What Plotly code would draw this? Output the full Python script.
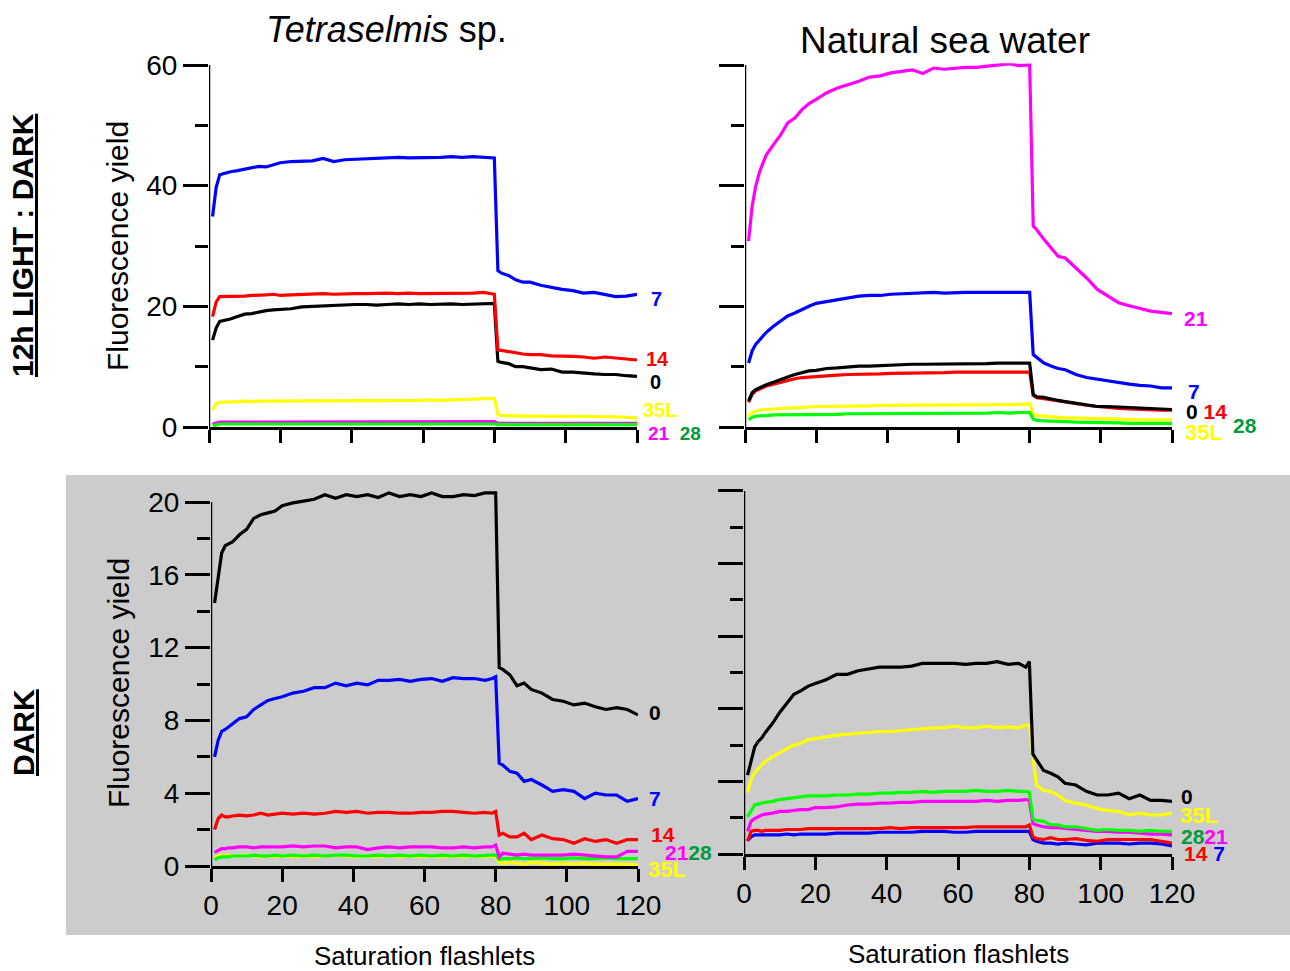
import plotly.graph_objects as go

# ---------------- data ----------------
flashlets = [1, 2, 3, 4, 5, 6, 8, 10, 12, 14, 16, 18, 20, 23, 26, 29, 32, 35, 38, 41,
             44, 47, 50, 53, 56, 59, 62, 65, 68, 71, 74, 77, 79, 80, 81, 82, 84, 86, 88, 90,
             93, 96, 99, 102, 105, 108, 111, 114, 117, 120]

# Tetraselmis sp., 12h LIGHT : DARK
tet_ld_7 = [34.9, 39.7, 41.8, 42.0, 42.2, 42.3, 42.5, 42.7, 43.0, 43.2,
            43.1, 43.5, 43.8, 44.0, 44.1, 44.1, 44.5, 44.0, 44.3, 44.4,
            44.5, 44.6, 44.7, 44.7, 44.6, 44.6, 44.7, 44.7, 44.8, 44.7,
            44.8, 44.7, 44.6, 44.6, 25.9, 25.5, 25.1, 24.4, 24.0, 24.0,
            23.5, 23.1, 22.8, 22.6, 22.2, 22.3, 21.9, 21.6, 21.7, 22.0]
tet_ld_14 = [18.3, 20.7, 21.6, 21.6, 21.7, 21.7, 21.7, 21.7, 21.8, 21.8,
             21.9, 22.0, 21.8, 21.9, 22.0, 22.0, 22.1, 22.0, 22.1, 22.1,
             22.1, 22.2, 22.2, 22.1, 22.2, 22.1, 22.1, 22.2, 22.2, 22.2,
             22.2, 22.3, 22.1, 22.0, 12.8, 12.7, 12.5, 12.2, 12.1, 12.0,
             12.0, 11.8, 11.8, 11.7, 11.6, 11.4, 11.6, 11.4, 11.3, 11.1]
tet_ld_0 = [14.4, 16.4, 17.5, 17.6, 17.7, 17.9, 18.3, 18.7, 18.8, 19.1,
            19.3, 19.4, 19.5, 19.6, 19.9, 20.0, 20.0, 20.2, 20.2, 20.3,
            20.3, 20.2, 20.3, 20.4, 20.3, 20.4, 20.3, 20.4, 20.4, 20.3,
            20.4, 20.5, 20.5, 20.5, 10.9, 10.7, 10.5, 10.0, 10.0, 9.8,
            9.5, 9.6, 9.1, 9.1, 8.9, 8.8, 8.7, 8.7, 8.5, 8.4]
tet_ld_35L = [2.8, 3.9, 4.1, 4.1, 4.1, 4.2, 4.2, 4.3, 4.2, 4.3,
              4.3, 4.3, 4.3, 4.3, 4.4, 4.3, 4.4, 4.4, 4.3, 4.4,
              4.4, 4.4, 4.4, 4.4, 4.3, 4.4, 4.5, 4.4, 4.5, 4.5,
              4.6, 4.7, 4.7, 4.7, 2.1, 1.9, 1.9, 1.8, 1.8, 1.8,
              1.8, 1.8, 1.8, 1.8, 1.7, 1.8, 1.7, 1.7, 1.6, 1.5]
tet_ld_21 = [0.5, 0.7, 0.8, 0.8, 0.8, 0.8, 0.8, 0.8, 0.8, 0.8,
             0.8, 0.8, 0.8, 0.9, 0.8, 0.8, 0.8, 0.8, 0.9, 0.8,
             0.8, 0.8, 0.8, 0.8, 0.8, 0.8, 0.8, 0.8, 0.8, 0.8,
             0.8, 0.8, 0.8, 0.9, 0.6, 0.6, 0.6, 0.6, 0.6, 0.6,
             0.6, 0.6, 0.7, 0.6, 0.6, 0.6, 0.6, 0.6, 0.6, 0.6]
tet_ld_28 = [0.2, 0.4, 0.5, 0.5, 0.5, 0.5, 0.5, 0.5, 0.5, 0.5,
             0.5, 0.5, 0.5, 0.5, 0.5, 0.5, 0.6, 0.5, 0.5, 0.5,
             0.5, 0.5, 0.5, 0.5, 0.5, 0.5, 0.5, 0.6, 0.5, 0.5,
             0.5, 0.5, 0.5, 0.5, 0.4, 0.4, 0.4, 0.4, 0.4, 0.4,
             0.4, 0.4, 0.4, 0.4, 0.4, 0.4, 0.4, 0.4, 0.4, 0.4]

# Natural sea water, 12h LIGHT : DARK
nsw_ld_21 = [30.8, 36.6, 39.9, 42.1, 43.7, 45.1, 46.8, 48.4, 50.4, 51.2,
             52.6, 53.6, 54.3, 55.4, 56.2, 56.7, 57.3, 58.0, 58.2, 58.7,
             59.0, 59.2, 58.6, 59.5, 59.3, 59.5, 59.6, 59.6, 59.8, 60.0,
             60.2, 59.9, 60.0, 60.0, 33.3, 32.7, 31.1, 29.7, 28.3, 28.0,
             26.4, 24.7, 22.8, 21.7, 20.6, 20.1, 19.6, 19.2, 19.0, 18.8]
nsw_ld_7 = [10.6, 12.6, 13.7, 14.4, 15.1, 15.7, 16.7, 17.5, 18.4, 18.9,
            19.5, 20.0, 20.5, 20.8, 21.2, 21.5, 21.7, 21.8, 21.8, 22.0,
            22.1, 22.1, 22.2, 22.3, 22.2, 22.3, 22.3, 22.3, 22.3, 22.3,
            22.3, 22.2, 22.3, 22.3, 12.0, 11.5, 10.6, 10.1, 9.7, 9.5,
            8.7, 8.2, 7.9, 7.6, 7.3, 7.1, 6.9, 6.8, 6.5, 6.5]
nsw_ld_0 = [4.3, 5.7, 6.2, 6.5, 6.8, 7.0, 7.4, 7.9, 8.3, 8.7,
            9.0, 9.3, 9.4, 9.7, 9.8, 10.0, 10.1, 10.1, 10.2, 10.3,
            10.3, 10.4, 10.4, 10.4, 10.5, 10.5, 10.5, 10.5, 10.5, 10.6,
            10.6, 10.5, 10.5, 10.6, 5.4, 5.0, 4.9, 4.6, 4.4, 4.2,
            3.9, 3.6, 3.4, 3.4, 3.3, 3.2, 3.1, 3.0, 3.0, 2.9]
nsw_ld_14 = [4.1, 5.4, 6.0, 6.3, 6.5, 6.8, 7.1, 7.4, 7.8, 8.0,
             8.2, 8.3, 8.4, 8.5, 8.6, 8.7, 8.7, 8.8, 8.8, 8.9,
             8.9, 8.9, 9.0, 9.0, 9.0, 9.1, 9.1, 9.0, 9.1, 9.1,
             9.1, 9.1, 9.1, 9.1, 5.2, 4.85, 4.7, 4.5, 4.3, 4.1,
             3.9, 3.6, 3.4, 3.2, 3.1, 3.0, 2.9, 2.8, 2.8, 2.8]
nsw_ld_35L = [1.8, 2.4, 2.6, 2.8, 2.9, 2.9, 3.0, 3.0, 3.1, 3.2,
              3.2, 3.3, 3.4, 3.4, 3.4, 3.5, 3.5, 3.5, 3.6, 3.6,
              3.6, 3.6, 3.6, 3.6, 3.7, 3.7, 3.7, 3.7, 3.7, 3.7,
              3.7, 3.75, 3.75, 3.9, 2.1, 1.9, 1.8, 1.7, 1.6, 1.5,
              1.5, 1.4, 1.4, 1.4, 1.3, 1.3, 1.2, 1.2, 1.2, 1.2]
nsw_ld_28 = [1.2, 1.6, 1.8, 1.8, 1.9, 1.9, 2.0, 2.0, 2.0, 2.0,
             2.1, 2.1, 2.1, 2.1, 2.1, 2.2, 2.2, 2.2, 2.2, 2.3,
             2.3, 2.3, 2.3, 2.2, 2.3, 2.3, 2.3, 2.3, 2.3, 2.4,
             2.3, 2.4, 2.4, 2.4, 1.3, 1.1, 1.0, 1.0, 0.9, 0.9,
             0.8, 0.8, 0.7, 0.7, 0.7, 0.6, 0.6, 0.6, 0.6, 0.6]

# Tetraselmis sp., DARK
tet_d_0 = [14.45, 15.9, 17.2, 17.6, 17.7, 17.8, 18.2, 18.5, 19.1, 19.3,
           19.4, 19.5, 19.8, 19.95, 20.05, 20.15, 20.4, 20.2, 20.4, 20.3,
           20.4, 20.25, 20.5, 20.3, 20.4, 20.3, 20.5, 20.3, 20.3, 20.4,
           20.35, 20.5, 20.5, 20.5, 10.9, 10.8, 10.5, 9.9, 10.05, 9.7,
           9.5, 9.15, 9.05, 8.85, 8.95, 8.75, 8.6, 8.7, 8.6, 8.3]
tet_d_7 = [6.0, 6.9, 7.4, 7.5, 7.65, 7.8, 8.1, 8.2, 8.6, 8.85,
           9.1, 9.2, 9.3, 9.5, 9.6, 9.8, 9.8, 10.05, 9.9, 10.05,
           9.95, 10.2, 10.2, 10.25, 10.15, 10.25, 10.3, 10.15, 10.35, 10.3,
           10.3, 10.2, 10.3, 10.4, 5.65, 5.55, 5.2, 5.1, 4.65, 4.75,
           4.45, 4.1, 4.2, 4.1, 3.7, 4.0, 3.9, 3.9, 3.55, 3.7]
tet_d_14 = [2.0, 2.6, 2.8, 2.7, 2.7, 2.75, 2.8, 2.75, 2.8, 2.9,
            2.8, 2.85, 2.9, 2.85, 2.9, 2.85, 2.9, 3.0, 2.95, 3.0,
            2.9, 2.95, 2.95, 2.9, 2.9, 2.95, 2.95, 3.0, 3.0, 2.95,
            2.9, 2.95, 2.9, 3.0, 1.7, 1.8, 1.6, 1.6, 1.8, 1.45,
            1.7, 1.5, 1.45, 1.25, 1.5, 1.35, 1.45, 1.25, 1.45, 1.45]
tet_d_21 = [0.75, 0.85, 0.95, 0.95, 1.0, 1.0, 1.05, 1.05, 1.0, 1.05,
            1.05, 1.05, 1.05, 1.1, 1.05, 1.1, 1.1, 1.0, 1.05, 1.05,
            0.9, 1.0, 1.05, 1.0, 1.05, 1.05, 1.05, 1.0, 1.0, 1.05,
            1.0, 1.05, 1.05, 1.15, 0.5, 0.7, 0.65, 0.6, 0.65, 0.6,
            0.6, 0.6, 0.6, 0.65, 0.6, 0.55, 0.5, 0.5, 0.8, 0.8]
tet_d_28 = [0.35, 0.45, 0.5, 0.5, 0.5, 0.55, 0.55, 0.55, 0.6, 0.55,
            0.55, 0.6, 0.55, 0.6, 0.55, 0.6, 0.55, 0.6, 0.6, 0.55,
            0.55, 0.6, 0.55, 0.6, 0.55, 0.6, 0.55, 0.6, 0.55, 0.6,
            0.55, 0.6, 0.6, 0.6, 0.35, 0.4, 0.4, 0.45, 0.4, 0.4,
            0.45, 0.4, 0.4, 0.45, 0.4, 0.4, 0.45, 0.4, 0.4, 0.4]
tet_d_35L = [0.45, 0.55, 0.6, 0.55, 0.6, 0.55, 0.55, 0.6, 0.55, 0.5,
             0.55, 0.5, 0.55, 0.5, 0.55, 0.5, 0.55, 0.6, 0.55, 0.5,
             0.55, 0.5, 0.55, 0.5, 0.55, 0.5, 0.55, 0.5, 0.55, 0.5,
             0.55, 0.5, 0.55, 0.5, 0.2, 0.15, 0.2, 0.15, 0.1, 0.2,
             0.15, 0.1, 0.15, 0.1, 0.15, 0.1, 0.1, 0.1, 0.1, 0.05]

# Natural sea water, DARK
nsw_d_0 = [4.35, 5.2, 5.9, 6.2, 6.4, 6.7, 7.2, 7.8, 8.3, 8.8,
           9.0, 9.25, 9.4, 9.6, 9.9, 9.9, 10.1, 10.2, 10.3, 10.3,
           10.3, 10.35, 10.5, 10.5, 10.5, 10.5, 10.45, 10.5, 10.5, 10.6,
           10.45, 10.5, 10.3, 10.6, 5.5, 5.2, 4.6, 4.45, 4.25, 3.9,
           3.8, 3.45, 3.25, 3.25, 3.35, 3.05, 3.25, 2.95, 2.95, 2.9]
nsw_d_35L = [3.4, 4.1, 4.5, 4.7, 4.9, 5.1, 5.35, 5.6, 5.8, 6.0,
             6.1, 6.3, 6.35, 6.45, 6.55, 6.6, 6.65, 6.7, 6.75, 6.75,
             6.8, 6.85, 6.9, 6.95, 6.95, 7.05, 6.95, 6.95, 7.05, 6.95,
             7.0, 6.95, 7.1, 7.1, 5.45, 3.8, 3.5, 3.45, 3.25, 2.95,
             2.8, 2.7, 2.5, 2.4, 2.35, 2.15, 2.25, 2.15, 2.15, 2.25]
nsw_d_28 = [2.05, 2.4, 2.7, 2.75, 2.8, 2.85, 2.9, 3.0, 3.05, 3.1,
            3.15, 3.2, 3.2, 3.2, 3.25, 3.25, 3.3, 3.3, 3.35, 3.35,
            3.4, 3.4, 3.45, 3.4, 3.45, 3.45, 3.45, 3.5, 3.45, 3.45,
            3.5, 3.45, 3.45, 3.4, 1.95, 1.85, 1.8, 1.6, 1.6, 1.5,
            1.5, 1.4, 1.3, 1.35, 1.3, 1.3, 1.25, 1.3, 1.25, 1.25]
nsw_d_21 = [1.25, 1.8, 1.95, 2.05, 2.15, 2.2, 2.25, 2.35, 2.35, 2.4,
            2.45, 2.45, 2.55, 2.55, 2.6, 2.7, 2.75, 2.75, 2.8, 2.8,
            2.85, 2.85, 2.9, 2.9, 2.9, 2.9, 2.9, 2.9, 2.95, 2.9,
            2.95, 2.95, 3.0, 2.95, 1.7, 1.6, 1.5, 1.45, 1.45, 1.4,
            1.35, 1.3, 1.25, 1.25, 1.2, 1.2, 1.15, 1.1, 1.1, 1.05]
nsw_d_14 = [0.7, 1.25, 1.3, 1.3, 1.25, 1.3, 1.3, 1.3, 1.35, 1.35,
            1.35, 1.4, 1.4, 1.4, 1.4, 1.4, 1.4, 1.4, 1.4, 1.45,
            1.4, 1.45, 1.45, 1.45, 1.45, 1.45, 1.45, 1.5, 1.5, 1.5,
            1.5, 1.5, 1.5, 1.6, 0.95, 0.85, 0.8, 0.9, 0.8, 0.8,
            0.85, 0.75, 0.7, 0.8, 0.8, 0.8, 0.8, 0.8, 0.7, 0.6]
nsw_d_7 = [0.75, 0.95, 1.05, 1.05, 1.05, 1.05, 1.05, 1.05, 1.1, 1.05,
           1.1, 1.1, 1.1, 1.1, 1.15, 1.15, 1.15, 1.15, 1.2, 1.2,
           1.2, 1.2, 1.25, 1.25, 1.25, 1.2, 1.2, 1.25, 1.25, 1.25,
           1.25, 1.25, 1.25, 1.25, 0.8, 0.7, 0.6, 0.6, 0.55, 0.6,
           0.55, 0.5, 0.6, 0.6, 0.6, 0.55, 0.6, 0.6, 0.55, 0.45]

x_ticks = [0, 20, 40, 60, 80, 100, 120]
top_y_ticks = [0, 20, 40, 60]
bottom_y_ticks = [0, 4, 8, 12, 16, 20]

# ---------------- style ----------------
COL = {"0": "#000000", "7": "#0000FF", "14": "#FF0000", "21": "#FF00FF",
       "28": "#00FF00", "35L": "#FFFF00"}
LABEL_COL = dict(COL, **{"28": "#00993C"})
FONT = "Liberation Sans, Arial, sans-serif"
W, H = 1290, 971


def px(x):
    return x / W


def py(y):
    return 1 - y / H


# name: (xaxis, yaxis, x px (0,120), y px (zero, top tick), top tick value, range max, series)
panels = {
    "tl": ("x", "y", (209, 637), (427, 65), 60, 60.3,
           [("35L", tet_ld_35L), ("21", tet_ld_21), ("28", tet_ld_28),
            ("0", tet_ld_0), ("14", tet_ld_14), ("7", tet_ld_7)]),
    "tr": ("x2", "y2", (745, 1172), (427, 65), 60, 60.3,
           [("35L", nsw_ld_35L), ("28", nsw_ld_28), ("21", nsw_ld_21),
            ("7", nsw_ld_7), ("14", nsw_ld_14), ("0", nsw_ld_0)]),
    "bl": ("x3", "y3", (211, 638), (866, 502), 20, 20.7,
           [("35L", tet_d_35L), ("28", tet_d_28), ("21", tet_d_21),
            ("14", tet_d_14), ("7", tet_d_7), ("0", tet_d_0)]),
    "br": ("x4", "y4", (744, 1172), (854, 491), 20, 20.1,
           [("7", nsw_d_7), ("14", nsw_d_14), ("21", nsw_d_21),
            ("28", nsw_d_28), ("35L", nsw_d_35L), ("0", nsw_d_0)]),
}

fig = go.Figure()
layout = dict(width=W, height=H, margin=dict(l=0, r=0, t=0, b=0, autoexpand=False),
              paper_bgcolor="white", plot_bgcolor="rgba(0,0,0,0)",
              showlegend=False, font=dict(family=FONT, color="black"))
shapes = [dict(type="rect", xref="paper", yref="paper", x0=px(66), x1=1.0,
               y0=py(935), y1=py(475), fillcolor="#CCCCCC", line=dict(width=0), layer="below")]

for key, (xa, ya, xd, yd, ytop, rmax, series) in panels.items():
    for name, vals in series:
        fig.add_trace(go.Scatter(x=flashlets, y=vals, mode="lines", xaxis=xa, yaxis=ya,
                                 line=dict(color=COL[name], width=3.2), name=name,
                                 hoverinfo="skip"))
    bottom = key in ("bl", "br")
    left = key in ("tl", "bl")
    xk = "xaxis" + xa[1:]
    yk = "yaxis" + ya[1:]
    y0px, ytpx = yd
    unit = (y0px - ytpx) / ytop
    dom_top_px = y0px - rmax * unit
    layout[xk] = dict(domain=[px(xd[0]), px(xd[1])], range=[0, 120], anchor=ya,
                      tickvals=x_ticks, ticks="outside", ticklen=13, tickwidth=2.5,
                      tickcolor="black", showline=True, linecolor="black", linewidth=2.5,
                      showgrid=False, zeroline=False, showticklabels=bottom,
                      tickfont=dict(size=28, family=FONT))
    minor = 10 if ytop == 60 else 2
    layout[yk] = dict(domain=[py(y0px), py(dom_top_px)], range=[0, rmax], anchor=xa,
                      tickvals=top_y_ticks if ytop == 60 else bottom_y_ticks,
                      ticks="outside", ticklen=25, tickwidth=2.5, tickcolor="black",
                      minor=dict(dtick=minor, ticks="outside", ticklen=13, tickwidth=2.5,
                                 tickcolor="black", showgrid=False),
                      showline=False, showgrid=False, zeroline=False,
                      showticklabels=left, tickfont=dict(size=28, family=FONT))
    # y axis line from 0 to the top tick
    shapes.append(dict(type="line", xref=xa, yref=ya, x0=0, x1=0, y0=0, y1=ytop,
                       line=dict(color="black", width=2.5), layer="above"))

fig.update_layout(**layout)

ann = []


def text(x, y, s, size, angle=0, color="black", xanchor="center"):
    ann.append(dict(x=px(x), y=py(y), xref="paper", yref="paper", text=s, showarrow=False,
                    font=dict(size=size, color=color, family=FONT), textangle=angle,
                    xanchor=xanchor, yanchor="middle", borderpad=0))


text(386, 30, "<i>Tetraselmis</i> sp.", 36)
text(945, 40, "Natural sea water", 37)
text(23, 245, "<b><u>12h LIGHT : DARK</u></b>", 30, angle=-90)
text(23, 733, "<b><u>DARK</u></b>", 30, angle=-90)
text(117, 246, "Fluorescence yield", 30, angle=-90)
text(118, 683, "Fluorescence yield", 30, angle=-90)
text(425, 956, "Saturation flashlets", 26)
text(958, 954, "Saturation flashlets", 26)


def lab(name):
    return "<span style='color:%s'><b>%s</b></span>" % (LABEL_COL[name], name)


SP = "&nbsp;"
series_labels = [
    # (label groups on one line, left px, center y px, font size)
    ([lab("7")], 650, 299, 20), ([lab("14")], 645, 359, 20), ([lab("0")], 649, 382, 20),
    ([lab("35L")], 642, 410, 20), ([lab("21"), SP + SP, lab("28")], 647, 433, 19),
    ([lab("21")], 1183, 318, 21), ([lab("7")], 1187, 391, 21),
    ([lab("0"), SP, lab("14")], 1185, 411, 21),
    ([lab("35L")], 1184, 432, 22), ([lab("28")], 1232, 426, 21),
    ([lab("0")], 648, 712, 21), ([lab("7")], 648, 798, 21), ([lab("14")], 650, 834, 21),
    ([lab("21"), lab("28")], 664, 852, 21), ([lab("35L")], 647, 869, 22),
    ([lab("0")], 1180, 796, 21), ([lab("35L")], 1179, 815, 22),
    ([lab("28"), lab("21")], 1180, 836, 21),
    ([lab("14"), SP, lab("7")], 1183, 853, 21),
]
for parts, lx, ly, fs in series_labels:
    text(lx, ly, "".join(parts), fs, xanchor="left")

fig.update_layout(annotations=ann, shapes=shapes)

fig.write_html("out.html", config={"displayModeBar": False},
               post_script="document.body.style.margin='0';")
